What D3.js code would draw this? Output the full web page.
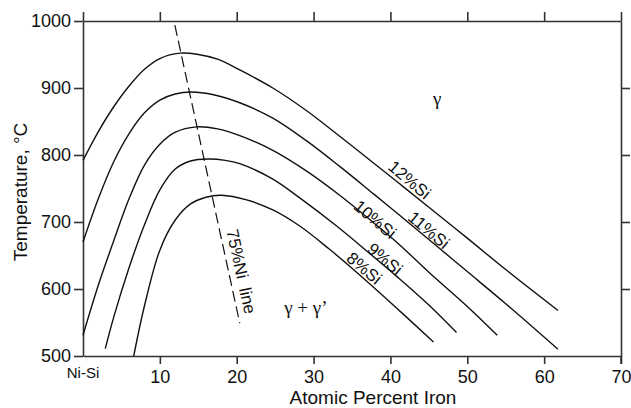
<!DOCTYPE html>
<html lang="en">
<head>
<meta charset="utf-8">
<script src="https://d3js.org/d3.v7.min.js"></script>
<style>
  body { margin: 0; background: #fff; }
  text { font-family: Arial, "Liberation Sans", Helvetica, sans-serif; fill: #111; }
</style>
</head>
<body>
<svg id="chart" width="631" height="408"></svg>
<script>
// curves: [atomic % Fe, temperature °C]
const si12 = [[0,792],[2,835],[4,872],[6,903],[8,928],[10,944],[12.6,952],[15,950],[17.5,943],[20.4,927],[24.7,900],[29.1,866],[33.4,828],[37.8,788],[41.2,757],[45,722],[50,676],[55,629],[61.8,568]];
const si11 = [[0,670],[2,735],[4,790],[6,832],[8,863],[10,882],[12,891],[14,894],[17,890],[20.4,878],[24.7,855],[29.1,821],[33.4,783],[37.8,742],[41.2,710],[45,674],[50,626],[55,578],[61.8,510]];
const si10 = [[0,531],[2,606],[4,672],[6,735],[8,785],[10,816],[12,834],[14.8,842],[17.5,839],[20.4,829],[24.7,807],[29.1,776],[33.4,740],[37.8,699],[41,668],[45,625],[50,574],[53.9,531]];
const si9 = [[2.9,511],[4,558],[6,632],[8,696],[10,748],[12,779],[14,791],[16.3,794],[18.5,792],[20.4,787],[24.7,764],[28.2,736],[33,694],[37,656],[41,617],[45,576],[48.6,535]];
const si8 = [[6.6,500],[8,575],[10,658],[12,703],[14,727],[16,737],[18,740],[21.3,733],[24.7,718],[28.2,694],[32,660],[36,621],[40,580],[45.6,521]];
const niLine = [[11.95,994],[20.4,549]];

const curveNames = ["12%Si", "11%Si", "10%Si", "9%Si", "8%Si"];
const curves = [si12, si11, si10, si9, si8];
// label anchor points (data coords)
const labelPos = [[42.5,763],[45.0,688],[38.0,704],[39.3,645],[36.6,631]];

const xTicks = [10, 20, 30, 40, 50, 60, 70];
const yTicks = [500, 600, 700, 800, 900, 1000];

const margin = {left: 83, right: 10, top: 21, bottom: 52};
const width = 631, height = 408;

const svg = d3.select("#chart");

const x = d3.scaleLinear().domain([0, 70]).range([margin.left, width - margin.right]);
const y = d3.scaleLinear().domain([500, 1000]).range([height - margin.bottom, margin.top]);

const axisColor = "#333";

// bottom axis
const gx = svg.append("g")
    .attr("transform", "translate(0," + y(500) + ")")
    .call(d3.axisBottom(x).tickValues(xTicks).tickSize(8).tickSizeOuter(0).tickPadding(6));
gx.selectAll("text").style("font-size", "18px");
// Ni-Si label at origin
gx.append("text")
    .attr("x", x(0))
    .attr("y", 22)
    .attr("text-anchor", "middle")
    .style("font-size", "15px")
    .text("Ni-Si");

// top axis (ticks only)
svg.append("g")
    .attr("transform", "translate(0," + y(1000) + ")")
    .call(d3.axisTop(x).tickValues([0, 10, 20, 30, 40, 50, 60, 70]).tickSize(9).tickSizeOuter(0).tickFormat(""));

// left axis
const gy = svg.append("g")
    .attr("transform", "translate(" + x(0) + ",0)")
    .call(d3.axisLeft(y).tickValues(yTicks).tickSize(9).tickSizeOuter(0).tickPadding(3).tickFormat(d3.format("d")));
gy.selectAll("text").style("font-size", "18px");

// right axis (ticks only)
svg.append("g")
    .attr("transform", "translate(" + x(70) + ",0)")
    .call(d3.axisRight(y).tickValues([600, 700, 800, 900]).tickSize(9).tickSizeOuter(0).tickFormat(""));

// bottom-right tick continues the right frame downward
svg.append("line")
    .attr("x1", x(70)).attr("x2", x(70))
    .attr("y1", y(500)).attr("y2", y(500) + 8);

svg.selectAll(".domain, .tick line, line")
    .attr("stroke", axisColor)
    .attr("stroke-width", 1.6);
svg.selectAll(".tick text").attr("fill", "#111").style("font-family", "Arial, 'Liberation Sans', sans-serif");

// curves
const line = d3.line()
    .x(d => x(d[0]))
    .y(d => y(d[1]))
    .curve(d3.curveCatmullRom.alpha(0.5));

svg.append("g")
    .selectAll("path")
    .data(curves)
    .join("path")
    .attr("d", line)
    .attr("fill", "none")
    .attr("stroke", "#111")
    .attr("stroke-width", 1.4);

// 75% Ni line (dashed)
svg.append("path")
    .attr("d", d3.line().x(d => x(d[0])).y(d => y(d[1]))(niLine))
    .attr("fill", "none")
    .attr("stroke", "#111")
    .attr("stroke-width", 1.2)
    .attr("stroke-dasharray", "11,5");

// curve labels
svg.append("g")
    .selectAll("text")
    .data(curveNames)
    .join("text")
    .attr("transform", (d, i) => "translate(" + x(labelPos[i][0]) + "," + y(labelPos[i][1]) + ") rotate(40)")
    .attr("text-anchor", "middle")
    .attr("dy", "0.35em")
    .style("font-size", "17px")
    .text(d => d);

svg.append("text")
    .attr("transform", "translate(" + x(20.6) + "," + y(626) + ") rotate(77.7)")
    .attr("text-anchor", "middle")
    .attr("dy", "0.35em")
    .style("font-size", "17px")
    .style("white-space", "pre")
    .text("75%Ni  line");

// phase labels
svg.append("text")
    .attr("x", x(46.1)).attr("y", y(885))
    .attr("text-anchor", "middle")
    .attr("dy", "0.35em")
    .style("font-family", "'Liberation Serif', 'DejaVu Serif', serif")
    .style("font-size", "19px")
    .text("γ");

svg.append("text")
    .attr("x", x(29.0)).attr("y", y(573))
    .attr("text-anchor", "middle")
    .attr("dy", "0.35em")
    .style("font-family", "'Liberation Serif', 'DejaVu Serif', serif")
    .style("font-size", "19px")
    .text("γ + γ’");

// axis titles
svg.append("text")
    .attr("x", 373)
    .attr("y", 404)
    .attr("text-anchor", "middle")
    .style("font-size", "19px")
    .text("Atomic Percent Iron");

svg.append("text")
    .attr("transform", "translate(27," + 192 + ") rotate(-90)")
    .attr("text-anchor", "middle")
    .style("font-size", "19px")
    .text("Temperature, °C");
</script>
</body>
</html>
